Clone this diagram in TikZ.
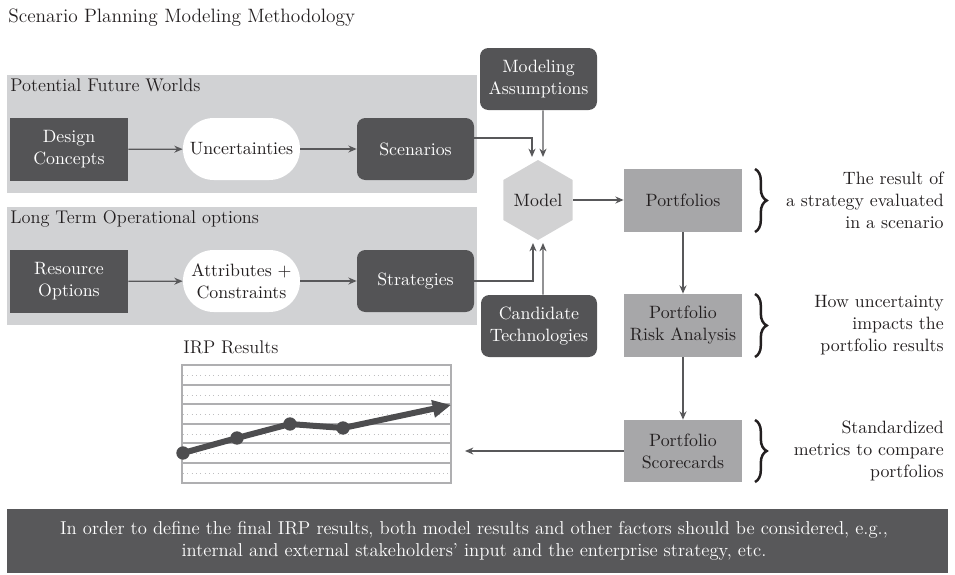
\documentclass[tikz,border=0pt]{standalone}
\usetikzlibrary{shapes.geometric,arrows.meta,decorations.pathreplacing}
\definecolor{darkbox}{RGB}{84,84,86}
\definecolor{panelgray}{RGB}{209,210,212}
\definecolor{hexgray}{RGB}{210,210,211}
\definecolor{portgray}{RGB}{167,167,169}
\definecolor{bannergray}{RGB}{88,88,90}
\definecolor{arrowgray}{RGB}{88,88,90}
\definecolor{txt}{RGB}{35,31,32}
\definecolor{gridsolid}{RGB}{175,175,177}
\definecolor{griddot}{RGB}{190,190,192}
\definecolor{chartline}{RGB}{77,77,79}
\newcommand{\bodyfont}{\fontsize{10.7pt}{13.2pt}\selectfont}
\begin{document}
\begin{tikzpicture}[x=0.6pt,y=-0.6pt,
  every node/.style={text=txt,font=\bodyfont},
  darkbox/.style={fill=darkbox,text=white,align=center,minimum width=70.8pt,minimum height=37.8pt,inner sep=0pt},
  darkround/.style={darkbox,rounded corners=5pt,minimum width=70.2pt,minimum height=37.2pt},
  whitepill/.style={fill=white,align=center,rounded corners=18.5pt,minimum width=70.2pt,minimum height=37.2pt,inner sep=0pt},
  portbox/.style={fill=portgray,align=center,minimum width=70.8pt,minimum height=37.8pt,inner sep=0pt},
  panel/.style={fill=panelgray,minimum width=282pt,minimum height=70.8pt,inner sep=0pt},
  hexnode/.style={regular polygon,regular polygon sides=6,shape border rotate=30,fill=hexgray,minimum size=48pt,inner sep=0pt},
  arr/.style={draw=arrowgray,line width=0.8pt,-{Stealth[length=5pt,width=4.2pt]}},
  note/.style={align=right,anchor=east,font=\bodyfont,inner sep=0pt},
  bracestyle/.style={decorate,decoration={brace,amplitude=7pt},line width=1.5pt,draw=txt},
  dot/.style={circle,fill=chartline,minimum size=8pt,inner sep=0pt}
]
\useasboundingbox (0,0) rectangle (955,574);

% title
\node[anchor=base west,font=\fontsize{11.6pt}{13pt}\selectfont,inner sep=0pt] (title) at (8,22) {Scenario Planning Modeling Methodology};

% panels
\node[panel] (p1) at (242,134) {};
\node[panel] (p2) at (242,266) {};
\node[anchor=base west,inner sep=0pt,font=\fontsize{11pt}{13pt}\selectfont] (p1lab) at (10,91) {Potential Future Worlds};
\node[anchor=base west,inner sep=0pt,font=\fontsize{11pt}{13pt}\selectfont] (p2lab) at (10,223) {Long Term Operational options};

% row 1
\node[darkbox] (design) at (69,149.5) {Design\\Concepts};
\node[whitepill] (uncert) at (241.5,149) {Uncertainties};
\node[darkround] (scen) at (415.5,149) {Scenarios};
% row 2
\node[darkbox] (resource) at (69,281.5) {Resource\\Options};
\node[whitepill] (attr) at (241.5,281) {Attributes +\\Constraints};
\node[darkround] (strat) at (415.5,281) {Strategies};

% model column
\node[darkround] (modass) at (538.5,79) {Modeling\\Assumptions};
\node[hexnode] (model) at (538,200) {Model};
\node[darkround,minimum width=69.6pt] (cand) at (539,326) {Candidate\\Technologies};

\coordinate (mtopL) at (532,157);
\coordinate (mtopR) at (543,157);
\coordinate (mbotL) at (533,243);
\coordinate (mbotR) at (543,243);

% portfolio column
\node[portbox] (portf) at (683,200.5) {Portfolios};
\node[portbox] (risk) at (683,325.5) {Portfolio\\Risk Analysis};
\node[portbox,minimum height=37.2pt] (score) at (683,451) {Portfolio\\Scorecards};

% notes
\node[note] (n1) at (944,200.5) {The result of\\a strategy evaluated\\in a scenario};
\node[note] (n2) at (944,325.5) {How uncertainty\\impacts the\\portfolio results};
\node[note] (n3) at (944,451) {Standardized\\metrics to compare\\portfolios};

\draw[bracestyle] (755,169) -- (755,232);
\draw[bracestyle] (755,294) -- (755,357);
\draw[bracestyle] (755,420) -- (755,482);

% arrows
\draw[arr] (design) -- (uncert);
\draw[arr] (uncert) -- (scen);
\draw[arr] (resource) -- (attr);
\draw[arr] (attr) -- (strat);
\draw[arr] ([yshift=6.6pt]scen.east) -| (mtopL);
\draw[arr] ([xshift=2.7pt]modass.south) -- (mtopR);
\draw[arr] (strat.east) -| (mbotL);
\draw[arr] ([xshift=2.4pt]cand.north) -- (mbotR);
\draw[arr] (model.east) -- (portf.west |- model.east);
\draw[arr] (portf) -- (risk);
\draw[arr] (risk) -- (score);
\coordinate (chartin) at (465,451);
\draw[arr] (score.west) -- (chartin);

% chart
\node[anchor=base west,inner sep=0pt,font=\fontsize{11pt}{13pt}\selectfont] (irp) at (183,353) {IRP Results};
\foreach \yy in {375,395,414,434,453,473} \draw[griddot,line width=0.6pt,dotted] (183,\yy) -- (450,\yy);
\foreach \yy in {385,404,424,443,463} \draw[gridsolid,line width=0.7pt] (182,\yy) -- (451,\yy);
\draw[gridsolid,line width=0.9pt] (182,365) rectangle (451,483);
\node[dot] (d1) at (183,453) {};
\node[dot] (d2) at (237,438) {};
\node[dot] (d3) at (290,424) {};
\node[dot] (d4) at (343,428) {};
\coordinate (d5) at (451,405);
\draw[chartline,line width=3.6pt,line join=round,-{Triangle[length=11pt,width=10pt]}] (d1.center) -- (d2.center) -- (d3.center) -- (d4.center) -- (d5);

% banner
\node[fill=bannergray,minimum width=564.6pt,minimum height=38.4pt,inner sep=0pt] (banner) at (477.5,541) {};
\node[text=white,align=center,font=\fontsize{11.2pt}{13pt}\selectfont] (bantext) at (474,541) {In order to define the final IRP results, both model results and other factors should be considered, e.g.,\\internal and external stakeholders' input and the enterprise strategy, etc.};
\end{tikzpicture}
\end{document}
